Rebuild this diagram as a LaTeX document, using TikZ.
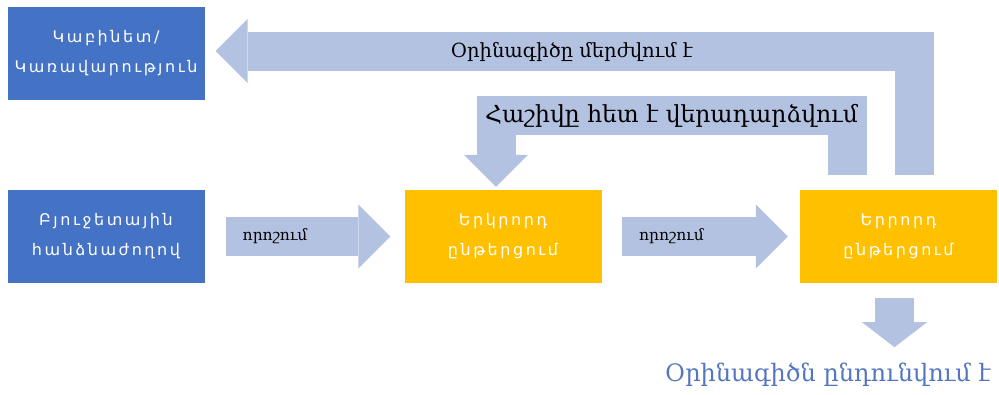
\documentclass[tikz,border=0pt]{standalone}
\usepackage{fontspec}
\setmainfont{DejaVu Serif}
\newfontfamily\boxfont[LetterSpace=16]{DejaVu Sans}
\usetikzlibrary{arrows.meta}
\definecolor{boxblue}{RGB}{68,114,196}
\definecolor{boxyellow}{RGB}{255,192,0}
\definecolor{arrowblue}{RGB}{180,194,226}
\definecolor{textblue}{RGB}{84,118,190}

\begin{document}
\begin{tikzpicture}[x=1pt,y=-1pt,
    panel/.style={minimum width=197pt,minimum height=93pt,align=center,text=white,inner sep=0pt,
      font=\boxfont\fontsize{16}{30}\selectfont},
    bluepanel/.style={panel,fill=boxblue},
    yellowpanel/.style={panel,fill=boxyellow},
    blockarrow/.style={draw=arrowblue,line width=39pt,-{Triangle[width=64pt,length=32pt,line width=0pt]}},
    arrowtext/.style={text=black,font=\fontsize{15.5}{18}\selectfont}]
  \useasboundingbox (0,0) rectangle (999,394);
  \node [bluepanel] (cab) at (106,53.5) {Կաբինետ/\\Կառավարություն};
  \node [bluepanel] (budget) at (106,236.5) {Բյուջետային\\հանձնաժողով};
  \node [yellowpanel] (second) at (503,236.5) {Երկրորդ\\ընթերցում};
  \node [yellowpanel] (third) at (898.5,236.5) {Երրորդ\\ընթերցում};
  \node [text=textblue,font=\fontsize{24}{26}\selectfont] (passed) at (828,375) {Օրինագիծն ընդունվում է};
  \draw [blockarrow] ([xshift=21pt]budget.east) to node [arrowtext,pos=0.3] {որոշում} ([xshift=-14pt]second.west);
  \draw [blockarrow] ([xshift=20pt]second.east) to node [arrowtext,pos=0.3] {որոշում} ([xshift=-12pt]third.west);
  \draw [blockarrow] ([xshift=15.5pt,yshift=15pt]third.north) |- node [arrowtext,pos=0.745,yshift=-1pt,font=\fontsize{19.5}{22}\selectfont] {Օրինագիծը մերժվում է} ([xshift=11pt,yshift=2.5pt]cab.east);
  \draw [blockarrow] ([xshift=-51.5pt,yshift=15pt]third.north) |- node [arrowtext,pos=0.75,font=\fontsize{23.5}{26}\selectfont] {Հաշիվը հետ է վերադարձվում} ([xshift=-7pt,yshift=74pt]second.north) -- ([xshift=-7pt,yshift=3pt]second.north);
  \draw [blockarrow,-{Triangle[width=65pt,length=25pt,line width=0pt]}] ([xshift=-4pt,yshift=-15pt]third.south) -- ([xshift=-4pt,yshift=-64pt]third.south);
\end{tikzpicture}
\end{document}
